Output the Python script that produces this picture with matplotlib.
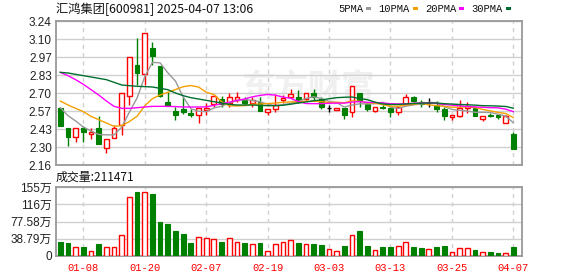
import matplotlib
matplotlib.use("Agg")
import matplotlib.pyplot as plt
import numpy as np
from matplotlib.patches import Rectangle

plt.rcParams['font.family'] = ['Liberation Sans', 'Noto Sans CJK SC', 'DejaVu Sans']

dates = ["01-03", "01-06", "01-07", "01-08", "01-09", "01-10", "01-13", "01-14", "01-15", "01-16",
         "01-17", "01-20", "01-21", "01-22", "01-23", "01-24", "01-27", "02-05", "02-06", "02-07",
         "02-10", "02-11", "02-12", "02-13", "02-14", "02-17", "02-18", "02-19", "02-20", "02-21",
         "02-24", "02-25", "02-26", "02-27", "02-28", "03-03", "03-04", "03-05", "03-06", "03-07",
         "03-10", "03-11", "03-12", "03-13", "03-14", "03-17", "03-18", "03-19", "03-20", "03-21",
         "03-24", "03-25", "03-26", "03-27", "03-28", "03-31", "04-01", "04-02", "04-03", "04-07"]

opens = [2.585, 2.44, 2.37, 2.44, 2.39, 2.44, 2.29, 2.36, 2.46, 2.68,
         2.91, 2.84, 3.035, 2.90, 2.635, 2.5675, 2.58, 2.55, 2.535, 2.575,
         2.615, 2.6575, 2.6225, 2.6475, 2.6575, 2.6225, 2.6325, 2.56, 2.5775, 2.6475,
         2.6675, 2.6675, 2.6575, 2.7025, 2.6575, 2.585, 2.57, 2.585, 2.5575, 2.6975,
         2.6175, 2.5625, 2.5975, 2.5875, 2.555, 2.62, 2.6675, 2.635, 2.625, 2.61,
         2.58, 2.5225, 2.53, 2.59, 2.585, 2.5025, 2.5375, 2.5375, 2.4725, 2.3925]
highs = [2.585, 2.44, 2.44, 2.45, 2.435, 2.53, 2.355, 2.46, 2.70, 2.97,
         3.115, 3.15, 3.085, 2.90, 2.71, 2.5925, 2.6675, 2.5775, 2.585, 2.625,
         2.675, 2.675, 2.7025, 2.7075, 2.6725, 2.6675, 2.6675, 2.5775, 2.6925, 2.6825,
         2.73, 2.7225, 2.6975, 2.73, 2.6725, 2.61, 2.585, 2.59, 2.75, 2.70,
         2.63, 2.5925, 2.61, 2.60, 2.5925, 2.6925, 2.68, 2.6475, 2.66, 2.64,
         2.5925, 2.5325, 2.6475, 2.635, 2.5925, 2.5275, 2.5525, 2.54, 2.5375, 2.41]
lows = [2.45, 2.305, 2.335, 2.335, 2.355, 2.32, 2.25, 2.36, 2.385, 2.61,
        2.76, 2.76, 2.91, 2.67, 2.60, 2.4975, 2.54, 2.5225, 2.4725, 2.535,
        2.5925, 2.5925, 2.5925, 2.635, 2.61, 2.5925, 2.5625, 2.535, 2.56, 2.6225,
        2.66, 2.6225, 2.6475, 2.6475, 2.5775, 2.56, 2.57, 2.5025, 2.5225, 2.5975,
        2.5675, 2.555, 2.5775, 2.5225, 2.5375, 2.61, 2.635, 2.5975, 2.5975, 2.56,
        2.4975, 2.4975, 2.5225, 2.5525, 2.5275, 2.4925, 2.5175, 2.5075, 2.4725, 2.2775]
closes = [2.45, 2.37, 2.44, 2.41, 2.405, 2.32, 2.355, 2.44, 2.70, 2.97,
          2.85, 3.15, 2.98, 2.68, 2.60, 2.535, 2.56, 2.535, 2.585, 2.585,
          2.675, 2.6175, 2.6675, 2.6675, 2.6225, 2.6475, 2.5625, 2.5775, 2.6125, 2.6625,
          2.6925, 2.635, 2.6975, 2.6725, 2.5925, 2.585, 2.585, 2.535, 2.75, 2.6375,
          2.5825, 2.5925, 2.59, 2.56, 2.5925, 2.67, 2.64, 2.62, 2.625, 2.58,
          2.5275, 2.5325, 2.585, 2.60, 2.5275, 2.5275, 2.53, 2.5175, 2.53, 2.2775]
volumes = [31.2, 28.9, 19.8, 19.8, 12.2, 26.6, 19.8, 19.8, 46.4, 133.1,
           143.0, 144.5, 138.4, 76.8, 72.3, 56.3, 48.7, 28.9, 41.8, 40.3,
           37.3, 31.2, 39.6, 30.4, 28.9, 25.9, 28.9, 12.2, 25.9, 30.4,
           35.0, 28.9, 28.1, 26.6, 24.3, 16.7, 12.2, 22.1, 46.4, 56.3,
           22.1, 14.5, 19.8, 19.8, 23.6, 30.4, 19.8, 17.5, 16.7, 19.8,
           22.1, 9.9, 19.0, 19.0, 12.9, 9.9, 9.9, 6.1, 7.6, 21.15]

ma5 = [2.59, 2.53, 2.49, 2.445, 2.415, 2.389, 2.386, 2.386, 2.444, 2.557,
       2.663, 2.822, 2.93, 2.926, 2.852, 2.789, 2.671, 2.582, 2.563, 2.56,
       2.588, 2.600, 2.626, 2.643, 2.65, 2.645, 2.634, 2.616, 2.605, 2.613,
       2.622, 2.636, 2.66, 2.672, 2.658, 2.637, 2.627, 2.594, 2.610, 2.619,
       2.618, 2.620, 2.631, 2.593, 2.584, 2.601, 2.611, 2.617, 2.630, 2.627,
       2.599, 2.577, 2.57, 2.565, 2.555, 2.555, 2.554, 2.541, 2.527, 2.477]
ma10 = [2.64, 2.61, 2.585, 2.56, 2.525, 2.50, 2.475, 2.45, 2.455, 2.486,
        2.526, 2.604, 2.658, 2.685, 2.705, 2.726, 2.747, 2.756, 2.745, 2.706,
        2.689, 2.635, 2.604, 2.603, 2.605, 2.616, 2.617, 2.621, 2.624, 2.631,
        2.633, 2.635, 2.638, 2.638, 2.635, 2.629, 2.631, 2.627, 2.641, 2.638,
        2.627, 2.623, 2.612, 2.601, 2.601, 2.610, 2.615, 2.624, 2.611, 2.605,
        2.600, 2.594, 2.593, 2.597, 2.591, 2.577, 2.566, 2.555, 2.546, 2.516]
ma20 = [2.855, 2.83, 2.80, 2.765, 2.725, 2.685, 2.64, 2.60, 2.585, 2.585,
        2.59, 2.595, 2.60, 2.60, 2.60, 2.598, 2.595, 2.595, 2.595, 2.596,
        2.607, 2.620, 2.631, 2.644, 2.655, 2.671, 2.682, 2.689, 2.684, 2.669,
        2.661, 2.635, 2.621, 2.620, 2.620, 2.623, 2.624, 2.624, 2.632, 2.635,
        2.630, 2.629, 2.625, 2.620, 2.618, 2.619, 2.623, 2.625, 2.626, 2.622,
        2.614, 2.609, 2.603, 2.599, 2.596, 2.593, 2.590, 2.589, 2.579, 2.560]
ma30 = [2.855, 2.85, 2.84, 2.83, 2.82, 2.81, 2.80, 2.78, 2.76, 2.755,
        2.75, 2.748, 2.745, 2.735, 2.725, 2.70, 2.68, 2.665, 2.655, 2.645,
        2.635, 2.625, 2.615, 2.61, 2.61, 2.61, 2.607, 2.605, 2.605, 2.608,
        2.616, 2.625, 2.633, 2.642, 2.648, 2.657, 2.665, 2.668, 2.670, 2.658,
        2.650, 2.631, 2.618, 2.614, 2.614, 2.618, 2.621, 2.624, 2.625, 2.625,
        2.620, 2.617, 2.614, 2.612, 2.609, 2.605, 2.604, 2.602, 2.599, 2.586]

price_ticks = ["2.16", "2.30", "2.43", "2.57", "2.70", "2.83", "2.97", "3.10", "3.24"]
vol_ticks = ["0", "38.79万", "77.58万", "116万", "155万"]
xtick_dates = ["01-08", "01-20", "02-07", "02-19", "03-03", "03-13", "03-25", "04-07"]
ma_names = ["5PMA", "10PMA", "20PMA", "30PMA"]
ma_colors = ["#999999", "#f5a000", "#ff00ff", "#006f2e"]

RED = "#ff0000"
GREEN = "#008000"
GRID = "#d0d0d0"
SPINE = "#999999"
MONO = ['Liberation Mono', 'DejaVu Sans Mono']

W, H = 578, 276
fig = plt.figure(figsize=(W / 100, H / 100), dpi=100)

def frac(x0, y0, x1, y1):
    return [x0 / W, 1 - y1 / H, (x1 - x0) / W, (y1 - y0) / H]

ax = fig.add_axes(frac(56, 21, 522, 165))
axv = fig.add_axes(frac(56, 187, 522, 256))

x = np.arange(len(dates))
xlim = (-0.56, len(dates) - 1 + 1.13)
xt = [dates.index(d) for d in xtick_dates]

# price axes
pmin, pmax = float(price_ticks[0]), float(price_ticks[-1])
ax.set_xlim(*xlim)
ax.set_ylim(pmin, pmax)
ax.set_yticks(np.linspace(pmin, pmax, len(price_ticks)))
ax.set_yticklabels(price_ticks)
ax.set_xticks(xt)
ax.set_xticklabels([])

# volume axes
vmax = 155.16
axv.set_xlim(*xlim)
axv.set_ylim(0, vmax)
axv.set_yticks(np.linspace(0, vmax, len(vol_ticks)))
axv.set_yticklabels(vol_ticks)
axv.set_xticks(xt)
axv.set_xticklabels(xtick_dates, color=RED, family=MONO, fontsize=7.6)

for a in (ax, axv):
    a.tick_params(length=0, labelsize=8.5, pad=3, colors='#222222')
    a.tick_params(axis='x', colors=RED, pad=5, labelsize=7.6)
    a.yaxis.grid(True, color=GRID, lw=1, zorder=0)
    for xi in xt:
        a.axvline(xi, color=GRID, lw=1, ls=(0, (3, 3)), zorder=0)
    for s in a.spines.values():
        s.set_color(SPINE)
        s.set_linewidth(1.3)
    a.set_axisbelow(True)

# watermark
ax.text(0.54, 0.53, "东方财富", transform=ax.transAxes, fontsize=24, color="#f0f0f0",
        ha='center', va='center', family=['Noto Sans CJK SC'], fontweight='bold', zorder=0.5)

bw = 0.62
for i in x:
    o, h, l, c = opens[i], highs[i], lows[i], closes[i]
    if c > o:
        col = RED
        ax.vlines(i, l, o, color=col, lw=1, zorder=2)
        ax.vlines(i, c, h, color=col, lw=1, zorder=2)
        ax.bar(i, c - o, bottom=o, width=bw, facecolor='white', edgecolor=col, lw=1, zorder=3)
    elif c < o:
        col = GREEN
        ax.vlines(i, l, h, color=col, lw=1, zorder=2)
        ax.bar(i, o - c, bottom=c, width=bw, facecolor=col, edgecolor=col, lw=0.8, zorder=3)
    else:
        col = "#000000"
        ax.vlines(i, l, h, color=col, lw=1, zorder=2)
        ax.hlines(o, i - bw / 2, i + bw / 2, color=col, lw=1, zorder=3)

for vals, col in zip([ma5, ma10, ma20, ma30], ma_colors):
    ax.plot(x, vals, color=col, lw=1, zorder=4)

for i in x:
    if closes[i] >= opens[i]:
        axv.bar(i, volumes[i], width=bw, facecolor='white', edgecolor=RED, lw=1, zorder=3)
    else:
        axv.bar(i, volumes[i], width=bw, facecolor=GREEN, edgecolor=GREEN, lw=0.8, zorder=3)

# title and legend
fig.text(56 / W, 1 - 9 / H, "汇鸿集团[600981] 2025-04-07 13:06", fontsize=8.8,
         family=['Noto Sans CJK SC'], va='center', ha='left', color='#111111')
fig.text(56 / W, 1 - 177 / H, "成交量:211471", fontsize=8.6,
         family=['Noto Sans CJK SC'], va='center', ha='left', color='#111111')

txt_end = [363, 410, 456, 503]
sq_x = [366, 413, 459, 506]
for name, col, tx, sx in zip(ma_names, ma_colors, txt_end, sq_x):
    fig.text(tx / W, 1 - 9 / H, name, fontsize=7.6, family=MONO,
             va='center', ha='right', color='#111111')
    fig.patches.append(Rectangle((sx / W, 1 - 10 / H), 5 / W, 3 / H, transform=fig.transFigure,
                                 facecolor=col, edgecolor='none'))

fig.savefig("out.png", dpi=100)
